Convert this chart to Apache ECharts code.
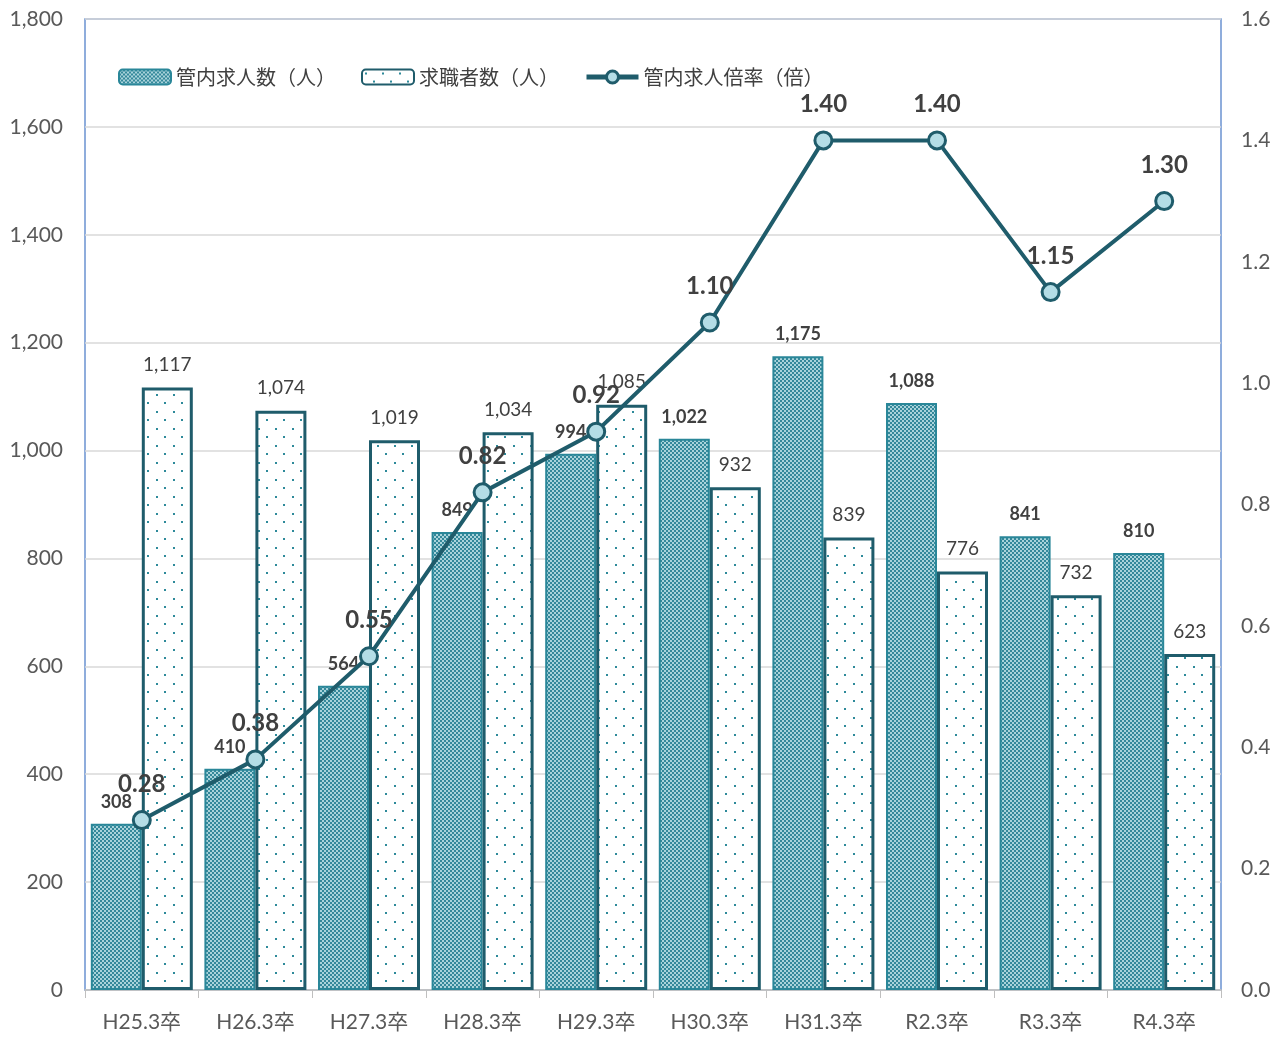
<!DOCTYPE html>
<html><head><meta charset="utf-8">
<script src="https://cdn.jsdelivr.net/npm/echarts@6/dist/echarts.min.js"></script>
<style>html,body{margin:0;padding:0;background:#fff}#c{width:1287px;height:1037px}</style>
</head><body><div id="c"></div>
<script>
const categories = ['H25.3卒','H26.3卒','H27.3卒','H28.3卒','H29.3卒','H30.3卒','H31.3卒','R2.3卒','R3.3卒','R4.3卒'];
const jobOffers = [308,410,564,849,994,1022,1175,1088,841,810];
const jobSeekers = [1117,1074,1019,1034,1085,932,839,776,732,623];
const ratio = [0.28,0.38,0.55,0.82,0.92,1.10,1.40,1.40,1.15,1.30];
const leftTicks = [0,1800,200];
const rightTicks = [0,1.6,0.2];

function checker(){
  const c=document.createElement('canvas');c.width=4;c.height=4;
  const g=c.getContext('2d');
  g.fillStyle='#a9d3db';g.fillRect(0,0,4,4);
  g.fillStyle='#34889a';
  g.fillRect(0,0,2,2);g.fillRect(2,2,2,2);
  return c;
}
function dots(){
  const c=document.createElement('canvas');c.width=17;c.height=17;
  const g=c.getContext('2d');
  g.fillStyle='#ffffff';g.fillRect(0,0,17,17);
  g.fillStyle='#2e8a9a';
  g.fillRect(3,3,2,2);g.fillRect(11,11,2,2);
  return c;
}
const chart=echarts.init(document.getElementById('c'),null,{renderer:'canvas'});
const font='Lato,"Noto Sans CJK JP",sans-serif';
const cjk='"Noto Sans CJK JP",sans-serif';
chart.setOption({
  animation:false,
  textStyle:{fontFamily:font},
  grid:{left:85,right:66,top:19,bottom:47,show:true,borderColor:'#6b93d1',borderWidth:1.5,backgroundColor:'transparent'},
  legend:{left:113,top:62,itemWidth:52,itemHeight:15,itemGap:25,
    textStyle:{fontSize:20,color:'#404040',fontFamily:cjk},
    data:[
      {name:'管内求人数（人）'},
      {name:'求職者数（人）'},
      {name:'管内求人倍率（倍）',lineStyle:{width:5,color:'#1f5c6b'},itemStyle:{color:'#b4dde6',borderColor:'#1f5c6b',borderWidth:3}}
    ]},
  xAxis:{type:'category',data:categories,
    axisLine:{lineStyle:{color:'#bfbfbf',width:1.5}},
    axisTick:{show:true,length:8,lineStyle:{color:'#bfbfbf'}},
    axisLabel:{fontSize:21,color:'#595959',margin:22,fontFamily:font}},
  yAxis:[
    {type:'value',min:leftTicks[0],max:leftTicks[1],interval:leftTicks[2],
     axisLabel:{fontSize:21,color:'#595959',margin:22,formatter:v=>v.toLocaleString('en-US')},
     splitLine:{lineStyle:{color:'#d9d9d9',width:1.5}},axisLine:{show:false},axisTick:{show:false}},
    {type:'value',min:rightTicks[0],max:rightTicks[1],interval:rightTicks[2],
     axisLabel:{fontSize:21,color:'#595959',margin:20,formatter:v=>v.toFixed(1)},
     splitLine:{show:false},axisLine:{show:false},axisTick:{show:false}}
  ],
  series:[
    {name:'管内求人数（人）',type:'bar',data:jobOffers,barWidth:51,barGap:'0%',barCategoryGap:'10%',
     itemStyle:{color:{image:checker(),repeat:'repeat'},borderColor:'#2a8799',borderWidth:2},
     label:{show:true,position:'top',distance:13,fontSize:18,fontWeight:'bold',color:'#404040',
       formatter:p=>p.value.toLocaleString('en-US')}},
    {name:'求職者数（人）',type:'bar',data:jobSeekers,barWidth:51,barGap:'0%',
     itemStyle:{color:{image:dots(),repeat:'repeat'},borderColor:'#1f5c6b',borderWidth:3},
     label:{show:true,position:'top',distance:13,fontSize:19,color:'#404040',
       formatter:p=>p.value.toLocaleString('en-US')}},
    {name:'管内求人倍率（倍）',type:'line',yAxisIndex:1,data:ratio,symbol:'circle',symbolSize:17,
     lineStyle:{color:'#1f5c6b',width:4},
     itemStyle:{color:'#b4dde6',borderColor:'#1f5c6b',borderWidth:3},
     label:{show:true,position:'top',distance:14,fontSize:24,fontWeight:'bold',color:'#404040',
       formatter:p=>p.value.toFixed(2)},z:5}
  ]
});
</script></body></html>
